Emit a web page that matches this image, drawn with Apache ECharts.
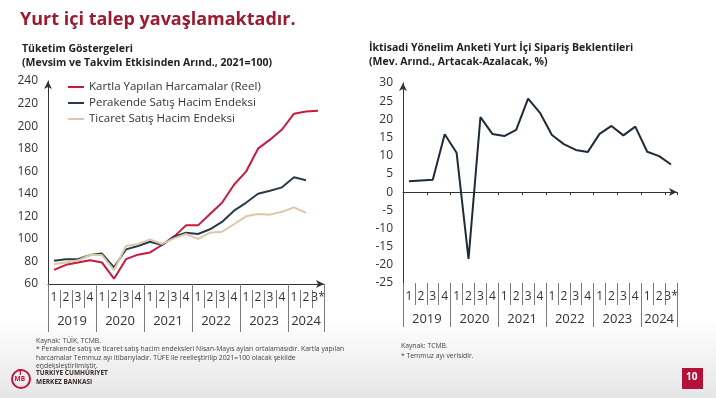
<!DOCTYPE html>
<html>
<head>
<meta charset="utf-8">
<script src="https://cdn.jsdelivr.net/npm/echarts@6/dist/echarts.min.js"></script>
<style>
  html, body { margin: 0; padding: 0; }
  body { background: linear-gradient(to bottom, #ffffff 0%, #ffffff 80%, #e6e6e6 100%); }
  #main { width: 716px; height: 398px; }
</style>
</head>
<body>
<div id="main"></div>
<script>
// quarters 2019Q1 .. 2024Q3
const quarters = ['1','2','3','4','1','2','3','4','1','2','3','4','1','2','3','4','1','2','3','4','1','2','3*'];
const years = ['2019','2020','2021','2022','2023','2024'];
const quartersPerYear = [4, 4, 4, 4, 4, 3];

// Tüketim Göstergeleri (2021=100)
const cardSpending = [72.5, 77, 79, 81, 79, 64.7, 82, 86, 88, 94.6, 102, 112, 112, 122, 132, 148, 159.6, 180, 188, 197, 211, 213, 213.6];
const retailSales = [80.7, 82, 82, 85.7, 87, 74.8, 90.7, 93.7, 97.5, 94.6, 102, 105.5, 104.3, 108.5, 115, 125, 132, 140, 142.7, 145.7, 154.6, 152, null];
const tradeSales = [77.7, 79, 81, 85.7, 85.7, 72.4, 93.7, 95.5, 99.6, 95.5, 100.5, 104.3, 100, 105.5, 106.4, 113, 120, 122, 121.5, 124, 128, 123, null];

// Yurt İçi Sipariş Beklentileri (%)
const orderExpectations = [3.0, 3.2, 3.4, 15.9, 10.8, -18.4, 20.6, 16, 15.4, 17.1, 25.7, 21.8, 15.7, 13.2, 11.6, 11.0, 16, 18.2, 15.6, 18, 11.1, 9.9, 7.6];

// year row is built on half-band slots so the labels sit in the middle of each year
const yearSlots = new Array(quarters.length * 2 + 1).fill('');
const yearBounds = new Set([0, quarters.length * 2]);
let pos = 0;
years.forEach(function (y, i) {
  yearSlots[2 * pos + quartersPerYear[i]] = y;
  yearBounds.add(2 * pos);
  pos += quartersPerYear[i];
});

const font = 'Open Sans';
const ink = '#333333';
const divider = '#7a7a7a';

function quarterAxis(grid, onZero, showTicks) {
  return [
    {
      type: 'category', gridIndex: grid, data: quarters, position: 'bottom',
      axisLine: { show: true, onZero: onZero, symbol: ['none', 'arrow'], symbolSize: [6, 8], lineStyle: { color: ink, width: 1 } },
      axisTick: { show: showTicks, length: 3, lineStyle: { color: ink } },
      axisLabel: { show: false },
      splitLine: { show: false }
    },
    {
      type: 'category', gridIndex: grid, data: quarters, position: 'bottom', offset: grid === 0 ? 6 : 0,
      axisLine: { show: false, onZero: false },
      axisTick: { show: true, interval: 0, length: grid === 0 ? 18 : 22, lineStyle: { color: divider } },
      axisLabel: { show: true, interval: 0, margin: grid === 0 ? 2 : 8, fontSize: 12, color: ink, fontFamily: font },
      splitLine: { show: false }
    },
    {
      type: 'category', gridIndex: grid, data: yearSlots, boundaryGap: false, position: 'bottom',
      axisLine: { show: false, onZero: false },
      axisTick: { show: true, length: grid === 0 ? 48 : 44, interval: function (i) { return yearBounds.has(i); }, lineStyle: { color: divider } },
      axisLabel: { show: true, interval: 0, margin: grid === 0 ? 31 : 30, fontSize: 13, color: ink, fontFamily: font },
      splitLine: { show: false }
    }
  ];
}

function valueAxis(grid, min, max, step) {
  return {
    type: 'value', gridIndex: grid, min: min, max: max, interval: step,
    axisLine: { show: true, symbol: ['none', 'arrow'], symbolSize: [6, 8], lineStyle: { color: ink, width: 1 } },
    axisTick: { show: false },
    axisLabel: { margin: 10, fontSize: 12, color: ink, fontFamily: font },
    splitLine: { show: false }
  };
}

const chart = echarts.init(document.getElementById('main'));
const option = {
  animation: false,
  textStyle: { fontFamily: font },
  grid: [
    { left: 48, top: 81, width: 276, height: 203 },
    { left: 403, top: 83, width: 274, height: 200 }
  ],
  xAxis: quarterAxis(0, false, false).concat(quarterAxis(1, true, true)),
  yAxis: [valueAxis(0, 60, 240, 20), valueAxis(1, -25, 30, 5)],
  legend: {
    orient: 'vertical', left: 68, top: 81, itemGap: 4, itemWidth: 16, itemHeight: 2, icon: 'rect',
    padding: 0,
    textStyle: { fontSize: 11.5, color: ink, fontFamily: font },
    data: ['Kartla Yapılan Harcamalar (Reel)', 'Perakende Satış Hacim Endeksi', 'Ticaret Satış Hacim Endeksi']
  },
  series: [
    { name: 'Kartla Yapılan Harcamalar (Reel)', type: 'line', xAxisIndex: 0, yAxisIndex: 0, data: cardSpending,
      symbol: 'none', lineStyle: { width: 2, color: '#c8193f' }, itemStyle: { color: '#c8193f' } },
    { name: 'Perakende Satış Hacim Endeksi', type: 'line', xAxisIndex: 0, yAxisIndex: 0, data: retailSales,
      symbol: 'none', lineStyle: { width: 2, color: '#2b3a4a' }, itemStyle: { color: '#2b3a4a' } },
    { name: 'Ticaret Satış Hacim Endeksi', type: 'line', xAxisIndex: 0, yAxisIndex: 0, data: tradeSales,
      symbol: 'none', lineStyle: { width: 2, color: '#d9c9a9' }, itemStyle: { color: '#d9c9a9' } },
    { name: 'Yurt İçi Sipariş Beklentileri', type: 'line', xAxisIndex: 3, yAxisIndex: 1, data: orderExpectations,
      symbol: 'none', lineStyle: { width: 2, color: '#1f2b38' }, itemStyle: { color: '#1f2b38' } }
  ],
  graphic: [
    { type: 'text', left: 20, top: 11, style: { text: 'Yurt içi talep yavaşlamaktadır.', fontSize: 18, fontWeight: 'bold', fill: '#9b1b30', fontFamily: font } },
    { type: 'text', left: 22, top: 42, style: { text: 'Tüketim Göstergeleri\n(Mevsim ve Takvim Etkisinden Arınd., 2021=100)', fontSize: 10.5, lineHeight: 14, fontWeight: 'bold', fill: '#222', fontFamily: font } },
    { type: 'text', left: 369, top: 41, style: { text: 'İktisadi Yönelim Anketi Yurt İçi Sipariş Beklentileri\n(Mev. Arınd., Artacak-Azalacak, %)', fontSize: 10.5, lineHeight: 14, fontWeight: 'bold', fill: '#222', fontFamily: font } },
    { type: 'text', left: 36, top: 337, style: { text: 'Kaynak: TÜİK, TCMB.\n* Perakende satış ve ticaret satış hacim endeksleri Nisan-Mayıs ayları ortalamasıdır. Kartla yapılan\nharcamalar Temmuz ayı itibarıyladır. TÜFE ile reelleştirilip 2021=100 olacak şekilde\nendeksleştirilmiştir.', fontSize: 6.8, lineHeight: 8.3, fill: '#444', fontFamily: font } },
    { type: 'text', left: 401, top: 341, style: { text: 'Kaynak: TCMB.\n* Temmuz ayı verisidir.', fontSize: 6.8, lineHeight: 10, fill: '#444', fontFamily: font } },
    { type: 'circle', shape: { cx: 21, cy: 379, r: 9 }, style: { fill: 'none', stroke: '#c0143c', lineWidth: 2 } },
    { type: 'text', left: 18, top: 369, style: { text: 'T', fontSize: 8, fontWeight: 'bold', fill: '#c0143c', fontFamily: font } },
    { type: 'text', left: 14.5, top: 376, style: { text: 'MB', fontSize: 6.5, fontWeight: 'bold', fill: '#c0143c', fontFamily: font } },
    { type: 'text', left: 36, top: 369, style: { text: 'TÜRKİYE CUMHURİYET\nMERKEZ BANKASI', fontSize: 6.5, lineHeight: 8.5, fontWeight: 'bold', fill: '#3a2b2b', fontFamily: font } },
    { type: 'rect', shape: { x: 682, y: 368, width: 21, height: 21 }, style: { fill: '#b3113a' } },
    { type: 'text', left: 686, top: 372, style: { text: '10', fontSize: 10, fontWeight: 'bold', fill: '#ffffff', fontFamily: font } }
  ]
};
chart.setOption(option);
</script>
</body>
</html>
